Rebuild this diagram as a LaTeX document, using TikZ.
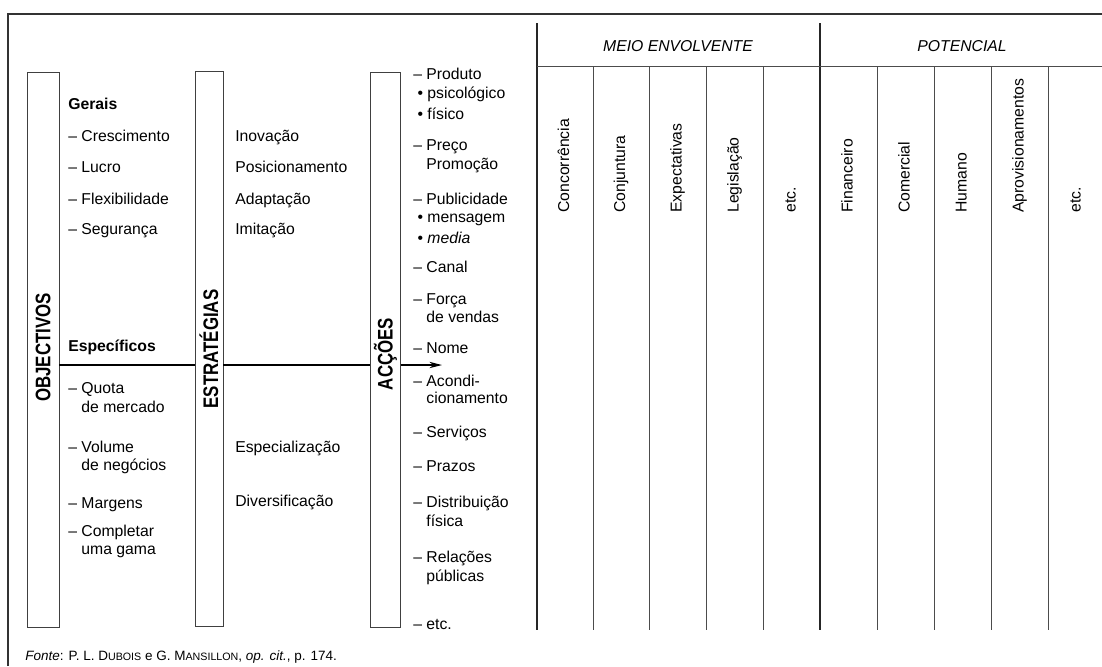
\documentclass[tikz,border=0pt]{standalone}
\usepackage{fontspec}
\setmainfont{Liberation Sans}
\newfontfamily\condfont[FakeStretch=0.8]{Liberation Sans}
\usetikzlibrary{arrows.meta}
\newcommand\smallcap[1]{{\fontsize{7.6}{9}\selectfont #1}}
\tikzset{
  item/.style={anchor=west, inner sep=0pt, text height=8pt, text depth=2.3pt,
               font=\fontsize{11.2}{13.5}\selectfont},
  bolditem/.style={item, font=\fontsize{11.2}{13.5}\selectfont\bfseries},
  vbox/.style={draw=black!75, line width=0.6pt, minimum height=13.875cm, inner sep=0pt},
  boxlabel/.style={rotate=90, inner sep=0pt, font=\condfont\fontsize{15}{15}\selectfont\bfseries},
  collabel/.style={rotate=90, anchor=west, inner sep=0pt, text height=8pt, text depth=2.3pt,
                   font=\fontsize{11.2}{13}\selectfont},
  headlabel/.style={inner sep=0pt, font=\fontsize{11.2}{13}\selectfont\itshape},
  rule/.style={line width=0.5pt, black!70},
  thickrule/.style={line width=1.2pt, black!85}
}
\begin{document}
\begin{tikzpicture}[x=0.025cm, y=-0.025cm]
\useasboundingbox (0,0) rectangle (1102,666);
% frame
\draw[line width=0.9pt, black!80] (8,666) -- (8,14) -- (1102,14);
% the three boxes and the arrow through them
\node[vbox, minimum width=0.8cm] (obj) at (43,349.5) {};
\node[vbox, minimum width=0.7cm] (est) at (209,349) {};
\node[vbox, minimum width=0.75cm] (act) at (385.5,349.5) {};
\node[boxlabel] (objlab) at (obj.center |- 0,347.5) {OBJECTIVOS};
\node[boxlabel] (estlab) at (est.center |- 0,349) {ESTRATÉGIAS};
\node[boxlabel] (actlab) at (act.center |- 0,354) {ACÇÕES};
\coordinate (spine) at (0,365);
\coordinate (tip) at (442,365);
\draw[line width=0.8pt] (obj.east |- spine) -- (est.west |- spine);
\draw[line width=0.8pt] (est.east |- spine) -- (act.west |- spine);
\draw[line width=0.8pt, -{Stealth[length=9pt, width=4.5pt]}] (act.east |- spine) -- (tip);
% objectivos
\node[bolditem] (gerais) at (68,105) {Gerais};
\foreach \y/\t [count=\i] in {137/Crescimento, 168/Lucro, 200/Flexibilidade, 230/Segurança}
  \node[item] (ger\i) at (68,\y) {– \t};
\node[bolditem] (espec) at (68,347) {Específicos};
\foreach \y/\t [count=\i] in {389/– Quota, 408/\phantom{– }de mercado,
                              448/– Volume, 466/\phantom{– }de negócios,
                              504/– Margens,
                              532/– Completar, 550/\phantom{– }uma gama}
  \node[item] (spc\i) at (68,\y) {\t};
% estrategias
\foreach \y/\t [count=\i] in {137/Inovação, 168/Posicionamento, 200/Adaptação, 230/Imitação,
                              448/Especialização, 502/Diversificação}
  \node[item] (str\i) at (235,\y) {\t};
% accoes
\foreach \y/\t [count=\i] in {75/– Produto, 94/\hspace{3pt}• psicológico, 115/\hspace{3pt}• físico,
                              146/– Preço, 165/\phantom{– }Promoção,
                              200/– Publicidade, 218/\hspace{3pt}• mensagem, 239/\hspace{3pt}• \textit{media},
                              268/– Canal, 300/– Força, 318/\phantom{– }de vendas,
                              349/– Nome, 382/– Acondi-, 399/\phantom{– }cionamento,
                              433/– Serviços, 467/– Prazos,
                              503/– Distribuição, 522/\phantom{– }física,
                              558/– Relações, 577/\phantom{– }públicas,
                              625/– etc.}
  \node[item] (acc\i) at (413,\y) {\t};
% table of the environment and the potential
\draw[thickrule] (537,23) -- (537,630);
\draw[thickrule] (820,23) -- (820,630);
\draw[rule] (537,66) -- (1102,66);
\foreach \x in {593,649,706,763,877,934,991,1048}
  \draw[rule] (\x,66) -- (\x,630);
\node[headlabel] (meio) at (678,46) {MEIO ENVOLVENTE};
\node[headlabel] (pot) at (962,46) {POTENCIAL};
\foreach \x/\t [count=\i] in {565/Concorrência, 621/Conjuntura, 677.5/Expectativas, 734.5/Legislação,
                              791.5/etc., 848.5/Financeiro, 905.5/Comercial, 962.5/Humano,
                              1019.5/Aprovisionamentos, 1076.5/etc.}
  \node[collabel] (col\i) at (\x,213) {\t};
% source
\node[anchor=west, inner sep=0pt, font=\fontsize{9.6}{11}\selectfont] (fonte) at (25,657)
  {\textit{Fonte}: P. L. D\smallcap{UBOIS} e G. M\smallcap{ANSILLON}, \textit{op. cit.}, p. 174.};
\end{tikzpicture}
\end{document}
